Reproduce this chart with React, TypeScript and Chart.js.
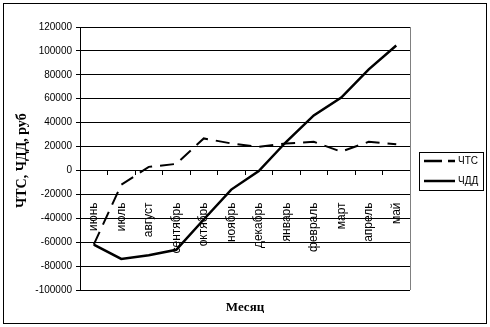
import React, { useEffect, useRef } from 'react';
import { Chart, registerables } from 'chart.js';

Chart.register(...registerables);

const months = ['июнь', 'июль', 'август', 'сентябрь', 'октябрь', 'ноябрь', 'декабрь', 'январь', 'февраль', 'март', 'апрель', 'май'];
const chtsValues = [-62000, -12000, 3000, 5500, 26800, 22600, 19800, 22600, 24000, 15700, 24000, 22000];
const chddValues = [-62000, -74000, -71000, -66400, -41000, -16000, -500, 24000, 46000, 61000, 84600, 104500];
const seriesNames = ['ЧТС', 'ЧДД'];
const yTitle = 'ЧТС, ЧДД, руб';
const xTitle = 'Месяц';

const decorPlugin = {
  id: 'decor',
  afterDraw(chart: any) {
    const ctx = chart.ctx as CanvasRenderingContext2D;
    const a = chart.chartArea;
    ctx.save();
    // plot-area right border (gray)
    ctx.strokeStyle = '#808080';
    ctx.lineWidth = 1;
    ctx.beginPath();
    ctx.moveTo(Math.round(a.right) + 0.5, a.top);
    ctx.lineTo(Math.round(a.right) + 0.5, a.bottom);
    ctx.stroke();
    // outer frame
    ctx.strokeStyle = '#000';
    ctx.lineWidth = 1;
    ctx.strokeRect(3.5, 3.5, 483, 320);
    // y title
    ctx.fillStyle = '#000';
    ctx.font = 'bold 14px "Liberation Serif", "Times New Roman", serif';
    ctx.save();
    ctx.beginPath();
    ctx.rect(0, 102, 60, 200);
    ctx.clip();
    ctx.translate(22, 208);
    ctx.rotate(-Math.PI / 2);
    ctx.textAlign = 'left';
    ctx.textBaseline = 'middle';
    ctx.fillText(yTitle, 0, 0);
    ctx.restore();
    // x title
    ctx.font = 'bold 13px "Liberation Serif", "Times New Roman", serif';
    ctx.textAlign = 'center';
    ctx.textBaseline = 'middle';
    ctx.fillText(xTitle, 245, 308);
    // legend
    ctx.lineWidth = 1;
    ctx.strokeRect(419.5, 152.5, 64, 38);
    ctx.font = '10px "Liberation Sans", Arial, sans-serif';
    ctx.textAlign = 'left';
    ctx.lineWidth = 2.5;
    ctx.beginPath();
    ctx.moveTo(424, 161);
    ctx.lineTo(442, 161);
    ctx.moveTo(448, 161);
    ctx.lineTo(455, 161);
    ctx.stroke();
    ctx.beginPath();
    ctx.moveTo(424, 181);
    ctx.lineTo(455, 181);
    ctx.stroke();
    ctx.fillText(seriesNames[0], 458, 161);
    ctx.fillText(seriesNames[1], 458, 181);
    ctx.restore();
  },
};

export default function App() {
  const ref = useRef<HTMLCanvasElement | null>(null);
  useEffect(() => {
    document.body.style.margin = '0';
    const chart = new Chart(ref.current as HTMLCanvasElement, {
      type: 'line',
      data: {
        labels: months,
        datasets: [
          {
            label: seriesNames[0],
            data: chtsValues,
            borderColor: '#000',
            borderWidth: 2,
            borderDash: [14, 8],
            pointRadius: 0,
            tension: 0,
            fill: false,
          },
          {
            label: seriesNames[1],
            data: chddValues,
            borderColor: '#000',
            borderWidth: 2.5,
            pointRadius: 0,
            tension: 0,
            fill: false,
          },
        ],
      },
      options: {
        responsive: false,
        animation: false,
        layout: { padding: { left: 0, top: 27, right: 80, bottom: 37 } },
        plugins: { legend: { display: false }, tooltip: { enabled: false } },
        scales: {
          x: {
            type: 'category',
            position: { y: 0 } as any,
            offset: true,
            grid: { display: true, drawOnChartArea: false, drawTicks: true, tickLength: 4, offset: true, color: '#000' },
            border: { display: true, color: '#000' },
            ticks: {
              autoSkip: false,
              minRotation: 90,
              maxRotation: 90,
              padding: 28,
              color: '#000',
              font: { family: '"Liberation Sans", Arial, sans-serif', size: 12 },
            },
          },
          y: {
            min: -100000,
            max: 120000,
            afterFit: (s: any) => {
              s.width = 80;
            },
            grid: { color: '#000', tickLength: 4, drawTicks: true },
            border: { display: true, color: '#000' },
            ticks: {
              stepSize: 20000,
              padding: 4,
              color: '#000',
              font: { family: '"Liberation Sans", Arial, sans-serif', size: 10 },
              callback: (v: any) => String(v),
            },
          },
        },
      },
      plugins: [decorPlugin],
    });
    return () => chart.destroy();
  }, []);
  return <canvas ref={ref} width={490} height={327} style={{ display: 'block' }} />;
}
